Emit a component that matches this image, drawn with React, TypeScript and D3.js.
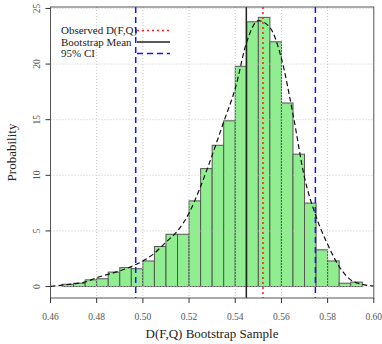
import * as d3 from 'd3';
import { useEffect, useRef } from 'react';

const binStarts = [
  0.465, 0.47, 0.475, 0.48, 0.485, 0.49, 0.495, 0.5, 0.505, 0.51, 0.515, 0.52, 0.525,
  0.53, 0.535, 0.54, 0.545, 0.55, 0.555, 0.56, 0.565, 0.57, 0.575, 0.58, 0.585, 0.59
];
const binHeights = [
  0.2, 0.3, 0.6, 0.7, 1.3, 1.7, 1.6, 2.3, 3.6, 4.7, 4.7, 7.7, 10.6,
  12.7, 14.9, 19.8, 23.8, 24.2, 22.0, 16.5, 11.9, 7.5, 3.3, 2.3, 0.3, 0.4
];
const binWidth = 0.005;

const densityX = [
  0.46, 0.465, 0.47, 0.475, 0.48, 0.485, 0.49, 0.495, 0.5, 0.505, 0.51, 0.515, 0.52, 0.525,
  0.53, 0.535, 0.54, 0.545, 0.55, 0.555, 0.56, 0.565, 0.57, 0.575, 0.58, 0.585, 0.59, 0.595, 0.6
];
const densityY = [
  0.02, 0.12, 0.25, 0.4, 0.8, 1.1, 1.4, 1.8, 2.3, 3.0, 4.0, 5.0, 6.6, 9.0,
  11.8, 14.8, 17.8, 22.0, 23.9, 23.3, 20.5, 15.5, 9.8, 6.3, 3.8, 1.8, 0.6, 0.2, 0.05
];

const observed = 0.552;
const bootMean = 0.5448;
const ciBounds = [0.4969, 0.5747];

const xTicks = [0.46, 0.48, 0.5, 0.52, 0.54, 0.56, 0.58, 0.6];
const yTicks = [0, 5, 10, 15, 20, 25];

const legendLabels = ['Observed D(F,Q)', 'Bootstrap Mean', '95% CI'];

export default function App() {
  const ref = useRef<SVGSVGElement | null>(null);

  useEffect(() => {
    const svg = d3.select(ref.current);
    svg.selectAll('*').remove();
    const font = '"Liberation Serif", "Times New Roman", serif';
    const left = 50.5;
    const right = 373.8;
    const top = 7;
    const bottom = 298;

    const x = d3.scaleLinear().domain([0.46, 0.6]).range([left, right]);
    const y = d3.scaleLinear().domain([-1.03, 25.13]).range([bottom, top]);

    // histogram bars
    svg
      .append('g')
      .selectAll('rect')
      .data(binStarts)
      .join('rect')
      .attr('x', (d) => x(d))
      .attr('width', (d) => x(d + binWidth) - x(d))
      .attr('y', (_, i) => y(binHeights[i]))
      .attr('height', (_, i) => y(0) - y(binHeights[i]))
      .attr('fill', '#90ee90')
      .attr('stroke', '#555')
      .attr('stroke-width', 1);

    // grid
    const grid = svg.append('g').attr('stroke', '#c8c8c8').attr('stroke-dasharray', '1,2').attr('stroke-width', 1);
    xTicks.slice(1, -1).forEach((t) => {
      grid.append('line').attr('x1', x(t)).attr('x2', x(t)).attr('y1', top).attr('y2', bottom);
    });
    yTicks.forEach((t) => {
      grid.append('line').attr('x1', left).attr('x2', right).attr('y1', y(t)).attr('y2', y(t));
    });

    // density curve
    const line = d3
      .line<number>()
      .x((d) => x(d))
      .y((_, i) => y(densityY[i]))
      .curve(d3.curveMonotoneX);
    svg
      .append('path')
      .attr('d', line(densityX) ?? '')
      .attr('fill', 'none')
      .attr('stroke', '#111')
      .attr('stroke-width', 1.2)
      .attr('stroke-dasharray', '5,3');

    // reference lines
    svg
      .append('line')
      .attr('x1', x(bootMean)).attr('x2', x(bootMean)).attr('y1', top).attr('y2', bottom)
      .attr('stroke', '#222').attr('stroke-width', 1.5);
    svg
      .append('line')
      .attr('x1', x(observed)).attr('x2', x(observed)).attr('y1', top).attr('y2', bottom)
      .attr('stroke', '#ff1a1a').attr('stroke-width', 1.5).attr('stroke-dasharray', '2,3');
    ciBounds.forEach((c) => {
      svg
        .append('line')
        .attr('x1', x(c)).attr('x2', x(c)).attr('y1', top).attr('y2', bottom)
        .attr('stroke', '#1414ff').attr('stroke-width', 1.5).attr('stroke-dasharray', '6,4');
    });

    // box
    svg
      .append('rect')
      .attr('x', left)
      .attr('y', top)
      .attr('width', right - left)
      .attr('height', bottom - top)
      .attr('fill', 'none')
      .attr('stroke', '#555')
      .attr('stroke-width', 1);

    // x axis
    const xAxis = svg.append('g');
    xTicks.forEach((t) => {
      xAxis.append('line').attr('x1', x(t)).attr('x2', x(t)).attr('y1', bottom).attr('y2', bottom + 5).attr('stroke', '#333');
      xAxis
        .append('text')
        .attr('x', x(t))
        .attr('y', bottom + 22)
        .attr('text-anchor', 'middle')
        .attr('font-family', font)
        .attr('font-size', 9.5)
        .attr('fill', '#555')
        .text(t.toFixed(2));
    });

    // y axis
    const yAxis = svg.append('g');
    yTicks.forEach((t) => {
      yAxis.append('line').attr('x1', left - 5).attr('x2', left).attr('y1', y(t)).attr('y2', y(t)).attr('stroke', '#333');
      yAxis
        .append('text')
        .attr('transform', `translate(${left - 11},${y(t)}) rotate(-90)`)
        .attr('text-anchor', 'middle')
        .attr('font-family', font)
        .attr('font-size', 9.5)
        .attr('fill', '#555')
        .text(String(t));
    });

    // titles
    svg
      .append('text')
      .attr('x', 212)
      .attr('y', 338)
      .attr('text-anchor', 'middle')
      .attr('font-family', font)
      .attr('font-size', 13)
      .attr('fill', '#222')
      .text('D(F,Q) Bootstrap Sample');
    svg
      .append('text')
      .attr('transform', `translate(16,${(top + bottom) / 2}) rotate(-90)`)
      .attr('text-anchor', 'middle')
      .attr('font-family', font)
      .attr('font-size', 13)
      .attr('fill', '#222')
      .text('Probability');

    // legend
    const legend = svg.append('g').attr('transform', 'translate(61,30)');
    const legendStyles = [
      { stroke: '#ff1a1a', dash: '2,3' },
      { stroke: '#222', dash: null },
      { stroke: '#1414ff', dash: '6,4' }
    ];
    legendLabels.forEach((label, i) => {
      const row = legend.append('g').attr('transform', `translate(0,${i * 11.5})`);
      row
        .append('text')
        .attr('x', 0)
        .attr('y', 4)
        .attr('font-family', font)
        .attr('font-size', 11)
        .attr('fill', '#222')
        .text(label);
      row
        .append('line')
        .attr('x1', 76)
        .attr('x2', 109)
        .attr('y1', 0.5)
        .attr('y2', 0.5)
        .attr('stroke', legendStyles[i].stroke)
        .attr('stroke-width', 1.5)
        .attr('stroke-dasharray', legendStyles[i].dash);
    });
  }, []);

  return <svg ref={ref} width={382} height={344} style={{ display: 'block', position: 'absolute', left: 0, top: 0 }} />;
}
